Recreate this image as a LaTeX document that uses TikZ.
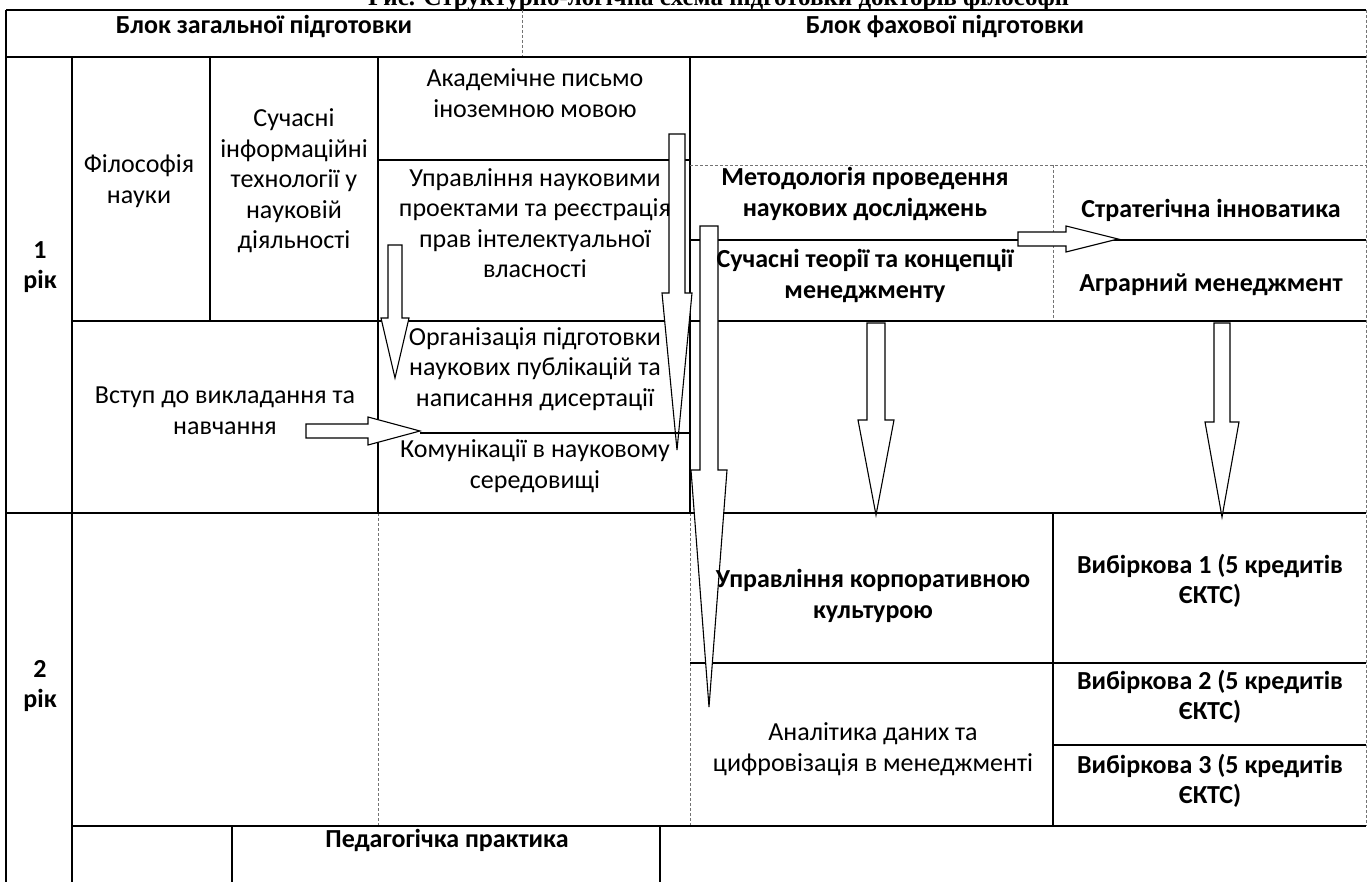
\documentclass[tikz,border=0pt]{standalone}
\usepackage{fontspec}
\setmainfont{Carlito}
\newfontfamily\titlefont{Liberation Serif}
\newcommand\blockdown[6]{% x, top, head start, tip, shaft half, head half
  \draw[blockarrow] (#1-#5,#2) -- (#1+#5,#2) -- (#1+#5,#3) -- (#1+#6,#3) -- (#1,#4) -- (#1-#6,#3) -- (#1-#5,#3) -- cycle;}
\newcommand\blockright[6]{% y, start, head start, tip, shaft half, head half
  \draw[blockarrow] (#2,#1-#5) -- (#3,#1-#5) -- (#3,#1-#6) -- (#4,#1) -- (#3,#1+#6) -- (#3,#1+#5) -- (#2,#1+#5) -- cycle;}
\begin{document}
\begin{tikzpicture}[x=1pt,y=-1pt,
  grid/.style={line width=1.1pt, black},
  faint/.style={line width=0.8pt, black!55, densely dashed},
  blockarrow/.style={draw=black, fill=white, line width=1.1pt, line join=miter},
  txt/.style={align=center, font=\fontsize{26}{30.5}\selectfont, inner sep=0pt},
  btxt/.style={align=center, font=\fontsize{26}{30.5}\selectfont\bfseries, inner sep=0pt},
]
\useasboundingbox (0,0) rectangle (1371,882);
\fill[white] (0,0) rectangle (1371,882);
% title (cut off at top, as in the reference)
\node[font=\titlefont\bfseries\fontsize{25}{30}\selectfont, anchor=base west, inner sep=0pt] (title) at (368,6) {Рис. Структурно-логічна схема підготовки докторів філософії};
% grid
\draw[grid] (6,10) -- (1366,10);
\draw[grid] (6,10) -- (6,882);
\draw[faint] (1366,10) -- (1366,826);
\draw[faint] (522,10) -- (522,57);
\draw[grid] (6,57) -- (1366,57);
\draw[grid] (72,57) -- (72,882);
\draw[grid] (210,57) -- (210,321);
\draw[grid] (378,57) -- (378,513);
\draw[faint] (378,513) -- (378,826);
\draw[grid] (690,57) -- (690,513);
\draw[faint] (690,513) -- (690,826);
\draw[grid] (378,160) -- (690,160);
\draw[faint] (690,165) -- (1366,165);
\draw[faint] (1053,165) -- (1053,321);
\draw[grid] (690,240) -- (1366,240);
\draw[grid] (72,321) -- (1366,321);
\draw[grid] (6,513) -- (1366,513);
\draw[grid] (1053,513) -- (1053,826);
\draw[grid] (690,663) -- (1366,663);
\draw[grid] (1053,745) -- (1366,745);
\draw[grid] (72,826) -- (1366,826);
\draw[grid] (232,826) -- (232,882);
\draw[grid] (660,826) -- (660,882);
% block arrows
\blockdown{395}{245}{318}{378}{7}{14}
\blockdown{677}{134}{293}{450}{8}{15}
\blockdown{709}{226}{470}{707}{9}{18}
\blockdown{876}{323}{420}{515}{9}{18}
\blockdown{1222}{323}{422}{517}{8}{17}
\blockright{431}{306}{368}{420}{7}{14}
\blockright{239}{1018}{1066}{1118}{7}{13}
\draw[grid] (420,433) -- (690,433);
% texts
\node[btxt] (hgen) at (264,26) {Блок загальної підготовки};
\node[btxt] (hfah) at (945,26) {Блок фахової підготовки};
\node[btxt] (y1) at (40,267) {1\\рік};
\node[btxt] (y2) at (40,686) {2\\рік};
\node[txt] (fil) at (139,181) {Філософія\\науки};
\node[txt] (sit) at (294,181) {Сучасні\\інформаційні\\технології у\\науковій\\діяльності};
\node[txt] (akad) at (535,93) {Академічне письмо\\іноземною мовою};
\node[txt] (upr) at (535,223) {Управління науковими\\проектами та реєстрація\\прав інтелектуальної\\власності};
\node[txt] (org) at (535,369) {Організація підготовки\\наукових публікацій та\\написання дисертації};
\node[txt] (kom) at (535,466) {Комунікації в науковому\\середовищі};
\node[txt] (vst) at (225,411) {Вступ до викладання та\\навчання};
\node[btxt] (met) at (865,194) {Методологія проведення\\наукових досліджень};
\node[btxt] (suc) at (865,276) {Сучасні теорії та концепції\\менеджменту};
\node[btxt] (str) at (1211,210) {Стратегічна інноватика};
\node[btxt] (agr) at (1211,285) {Аграрний менеджмент};
\node[btxt] (ukk) at (873,596) {Управління корпоративною\\культурою};
\node[txt] (anal) at (873,749) {Аналітика даних та\\цифровізація в менеджменті};
\node[btxt] (v1) at (1210,581) {Вибіркова 1 (5 кредитів\\ЄКТС)};
\node[btxt] (v2) at (1210,697) {Вибіркова 2 (5 кредитів\\ЄКТС)};
\node[btxt] (v3) at (1210,781) {Вибіркова 3 (5 кредитів\\ЄКТС)};
\node[btxt] (ped) at (447,840) {Педагогічка практика};
\end{tikzpicture}
\end{document}
